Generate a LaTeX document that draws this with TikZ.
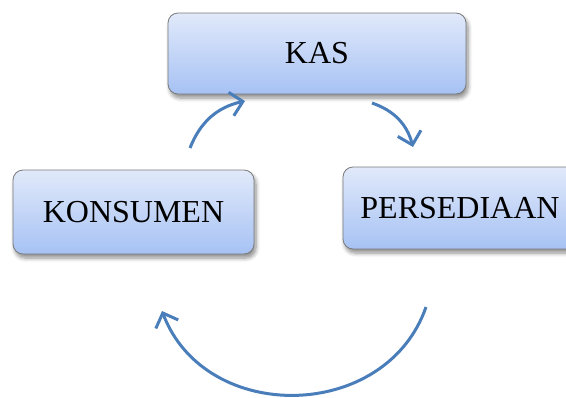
\documentclass[tikz,border=0pt]{standalone}
\usepackage{fontspec}
\setmainfont{Liberation Serif}
\usetikzlibrary{arrows.meta,shadows.blur}
\definecolor{kotakatas}{HTML}{E1E9FA}
\definecolor{kotakbawah}{HTML}{A6C2F4}
\definecolor{garistepi}{HTML}{7A7A7A}
\definecolor{panahbiru}{HTML}{4A7EBB}

\begin{document}
\begin{tikzpicture}[x=0.5pt,y=0.5pt,>={Straight Barb[length=6pt,width=12pt]},
	akun/.style={draw=garistepi,rounded corners=5pt,top color=kotakatas,bottom color=kotakbawah,
		blur shadow={shadow xshift=1pt,shadow yshift=-2pt,shadow blur steps=6,shadow blur radius=2pt,shadow opacity=45},
		font=\fontsize{16}{19}\selectfont,inner sep=0pt},
	panah/.style={->,draw=panahbiru,line width=1.5pt}]
		\useasboundingbox (0,0) rectangle (566,-397);
		\node[akun,minimum width=149pt,minimum height=40.5pt] (kas) at (317,-53.5) {KAS};
		\node[akun,minimum width=120.5pt,minimum height=42pt] (konsumen) at (133.5,-212) {KONSUMEN};
		\node[akun,minimum width=117pt,minimum height=41pt] (persediaan) at (460,-208) {PERSEDIAAN};

		\coordinate (k1) at (190,-148);
		\coordinate (k2) at (245,-101);
		\coordinate (p1) at (372,-103);
		\coordinate (p2) at (413,-147);
		\coordinate (b1) at (426,-307);
		\coordinate (b2) at (162,-311);

		\draw[panah] (k1) to[bend left=28] (k2);
		\draw[panah] (p1) to[bend left=28] (p2);
		\draw[panah] (b1) to[bend left=70,looseness=1.18] (b2);
\end{tikzpicture}
\end{document}
